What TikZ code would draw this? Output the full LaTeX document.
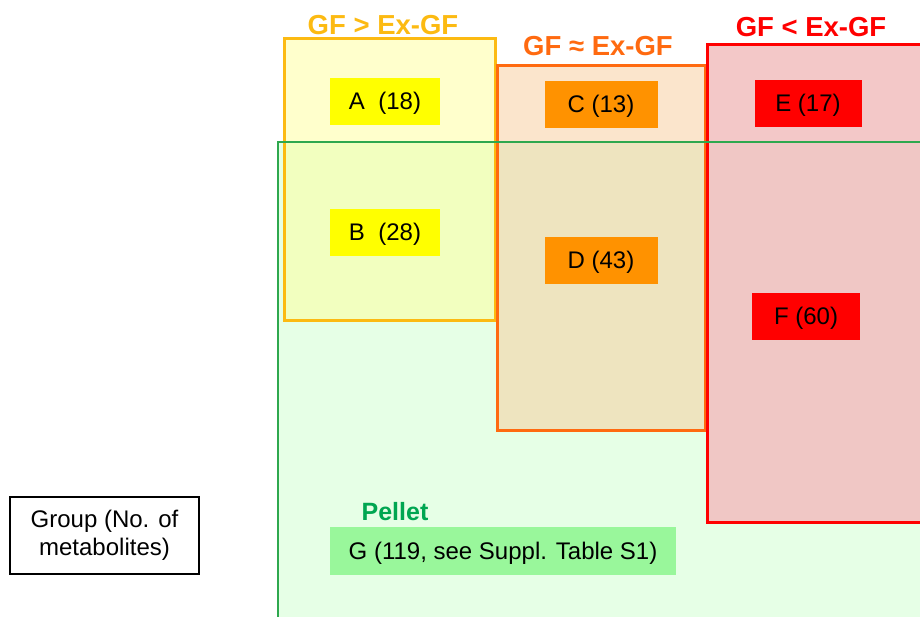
\documentclass[tikz,border=0pt]{standalone}
\usepackage{fontspec}
\setmainfont{Liberation Sans}
\definecolor{gtline}{HTML}{FCBA12}
\definecolor{gtfill}{HTML}{FFFF99}
\definecolor{eqline}{HTML}{FF6A10}
\definecolor{eqfill}{HTML}{F7CB99}
\definecolor{ltline}{HTML}{FF0000}
\definecolor{ltfill}{HTML}{F2C2C2}
\definecolor{pelline}{HTML}{2EA84E}
\definecolor{pelfill}{HTML}{E6FFE6}
\definecolor{pelbox}{HTML}{99F79B}
\definecolor{pelText}{HTML}{00A651}
\definecolor{boxA}{HTML}{FFFF00}
\definecolor{boxC}{HTML}{FF9200}
\tikzset{
  group/.style={minimum width=110pt, minimum height=47pt, inner sep=0pt,
    text depth=0pt, font=\fontsize{24}{28}\selectfont},
  title/.style={font=\bfseries\fontsize{27.5}{32}\selectfont},
  region/.style={line width=3pt, fill opacity=0.5}
}
\begin{document}
\begin{tikzpicture}[x=1pt, y=-1pt]
            \useasboundingbox (0, 0) rectangle (920, 616);
            \clip (0, 0) rectangle (920, 616);
            % pellet area underneath
            \fill[pelfill] (278, 142) rectangle (930, 630);
            % the three comparison regions
            \filldraw[region, draw=gtline, fill=gtfill] (284, 38) rectangle (495, 320);
            \filldraw[region, draw=eqline, fill=eqfill] (497, 65) rectangle (705, 430);
            \filldraw[region, draw=ltline, fill=ltfill, fill opacity=0.9] (707, 44) rectangle (930, 522);
            \draw[line width=2.5pt, pelline] (278, 630) -- (278, 142) -- (930, 142);
            \node[title, text=gtline] (tGT) at (383, 25) {GF > Ex-GF};
            \node[title, text=eqline] (tEQ) at (598, 46) {GF ≈ Ex-GF};
            \node[title, text=ltline] (tLT) at (811, 27) {GF < Ex-GF};
            \node[title, font=\bfseries\fontsize{25}{29}\selectfont, text=pelText] (tPel) at (395, 512) {Pellet};
            \node[group, fill=boxA] (A) at (385, 101) {A~~(18)};
            \node[group, fill=boxA] (B) at (385, 232) {B~~(28)};
            \node[group, fill=boxC, minimum width=113pt] (C) at (601, 104) {C (13)};
            \node[group, fill=boxC, minimum width=113pt] (D) at (601, 260) {D (43)};
            \node[group, fill=ltline, minimum width=107pt] (E) at (808, 103) {E (17)};
            \node[group, fill=ltline, minimum width=108pt] (F) at (806, 316) {F (60)};
            \node[group, fill=pelbox, minimum width=346pt, minimum height=48pt] (G) at (503, 551) {G (119, see Suppl. Table S1)};
            \node[group, text depth=, draw=black, line width=2.5pt, fill=white, minimum width=189pt, minimum height=77pt, align=center] (key) at (104.5, 535.5) {Group (No. of\\metabolites)};
        \end{tikzpicture}
\end{document}
